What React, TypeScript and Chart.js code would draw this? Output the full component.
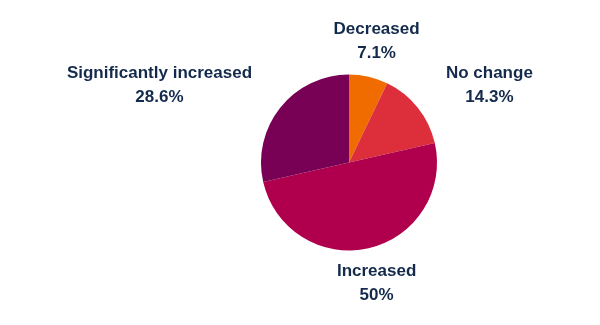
import React, { useEffect, useRef } from "react";
import { Chart, registerables } from "chart.js";

Chart.register(...registerables);

const categories = ["Decreased", "No change", "Increased", "Significantly increased"];
const counts = [1, 2, 7, 4];
const colors = ["#f06c00", "#dc2f3b", "#b0004d", "#780055"];
const textColor = "#132a4c";

const fmtPct = (v: number) => {
  const s = v.toFixed(1);
  return (s.endsWith(".0") ? s.slice(0, -2) : s) + "%";
};

const outsideLabels = {
  id: "outsideLabels",
  afterDraw(chart: any) {
    const ctx = chart.ctx;
    const meta = chart.getDatasetMeta(0);
    const data = chart.data.datasets[0].data as number[];
    const total = data.reduce((a, b) => a + b, 0);
    ctx.save();
    ctx.font = "bold 17px 'Liberation Sans', Arial, sans-serif";
    ctx.fillStyle = textColor;
    ctx.textBaseline = "middle";
    ctx.textAlign = "center";
    meta.data.forEach((arc: any, i: number) => {
      const p = arc.getProps(["x", "y", "startAngle", "endAngle", "outerRadius"], true);
      const mid = (p.startAngle + p.endAngle) / 2;
      const r = p.outerRadius + 36;
      const x = p.x + Math.cos(mid) * r;
      const y = p.y + Math.sin(mid) * r;
      const c = Math.cos(mid);
      const lines = [chart.data.labels[i] as string, fmtPct((data[i] / total) * 100)];
      const w = Math.max(...lines.map((l) => ctx.measureText(l).width));
      let cx = x;
      if (Math.abs(c) >= 0.35) cx = c > 0 ? x + w / 2 : x - w / 2;
      ctx.fillText(lines[0], cx, y - 12);
      ctx.fillText(lines[1], cx, y + 12);
    });
    ctx.restore();
  },
};

export default function App() {
  const ref = useRef<HTMLCanvasElement>(null);
  useEffect(() => {
    if (!ref.current) return;
    const chart = new Chart(ref.current, {
      type: "pie",
      data: {
        labels: categories,
        datasets: [
          {
            data: counts,
            backgroundColor: colors,
            borderWidth: 0,
          },
        ],
      },
      options: {
        animation: false,
        responsive: false,
        maintainAspectRatio: false,
        radius: 88,
        layout: { padding: { left: 98, right: 0, top: 0, bottom: 0 } },
        plugins: {
          legend: { display: false },
          tooltip: { enabled: false },
        },
      } as any,
      plugins: [outsideLabels],
    });
    return () => chart.destroy();
  }, []);
  return (
    <div style={{ position: "absolute", left: 0, top: 0, width: 600, height: 325, background: "#fff" }}>
      <canvas ref={ref} width={600} height={325} style={{ width: 600, height: 325 }} />
    </div>
  );
}
